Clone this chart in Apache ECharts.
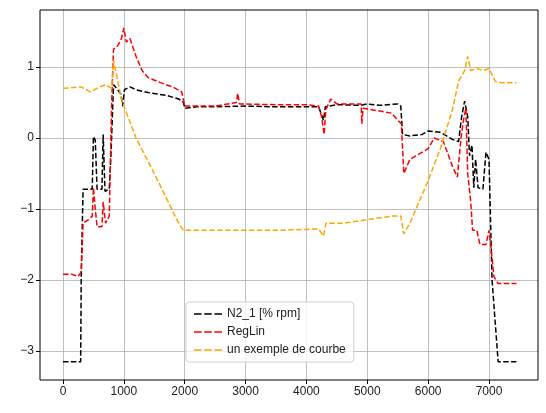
<!DOCTYPE html>
<html><head><meta charset="utf-8">
<script src="https://cdn.jsdelivr.net/npm/echarts@6/dist/echarts.min.js"></script>
<style>html,body{margin:0;padding:0;background:#fff}#c{width:546px;height:413px}</style>
</head><body><div id="c"></div>
<script>
var n2 = [[0,-3.15],[290,-3.15],[300,-1.9],[330,-0.72],[480,-0.72],[500,0.02],[530,-0.03],[560,-0.72],[640,-0.72],[660,0.05],[690,-0.75],[760,-0.72],[790,-0.2],[830,0.75],[880,0.7],[950,0.62],[980,0.45],[1010,0.68],[1100,0.72],[1200,0.68],[1400,0.64],[1700,0.6],[1900,0.55],[1980,0.5],[2000,0.42],[2200,0.44],[2500,0.44],[3000,0.45],[3500,0.44],[4000,0.44],[4200,0.44],[4280,0.25],[4310,0.44],[4500,0.47],[4900,0.46],[5000,0.48],[5200,0.46],[5500,0.48],[5550,0.45],[5580,0.05],[5700,0.03],[5900,0.05],[6000,0.1],[6200,0.08],[6400,-0.02],[6500,-0.05],[6550,0.3],[6600,0.52],[6650,0.3],[6680,-0.25],[6720,-0.1],[6750,-0.7],[6780,-0.3],[6820,-0.7],[6900,-0.72],[6950,-0.2],[7000,-0.3],[7050,-2.0],[7150,-3.15],[7450,-3.15]];
var reglin = [[0,-1.92],[150,-1.92],[250,-1.95],[300,-1.88],[330,-1.2],[420,-1.15],[480,-1.1],[500,-0.7],[530,-1.0],[560,-1.25],[640,-1.25],[660,-0.9],[700,-1.2],[760,-1.1],[800,0.5],[830,1.25],[900,1.3],[960,1.4],[1000,1.55],[1040,1.35],[1100,1.4],[1200,1.15],[1300,0.95],[1400,0.85],[1600,0.78],[1800,0.72],[1950,0.65],[2000,0.45],[2500,0.45],[2850,0.5],[2870,0.63],[2900,0.48],[3500,0.47],[4000,0.47],[4200,0.45],[4250,0.3],[4290,0.05],[4320,0.4],[4400,0.55],[4500,0.48],[4900,0.48],[4910,0.2],[4930,0.42],[5400,0.35],[5500,0.25],[5560,0.2],[5600,-0.5],[5700,-0.3],[5800,-0.25],[6000,-0.15],[6100,0.0],[6250,-0.05],[6400,-0.4],[6480,-0.55],[6540,0.0],[6580,0.25],[6620,0.42],[6650,-0.5],[6700,-0.9],[6730,-1.3],[6800,-1.3],[6850,-1.5],[6950,-1.5],[7000,-1.3],[7040,-1.6],[7080,-1.95],[7150,-2.05],[7450,-2.05]];
var courbe = [[0,0.7],[300,0.72],[450,0.65],[600,0.72],[700,0.75],[800,0.7],[830,1.1],[900,0.8],[960,0.55],[1000,0.45],[1200,0.0],[1500,-0.5],[1700,-0.85],[1900,-1.2],[1980,-1.3],[2500,-1.3],[3000,-1.3],[3500,-1.3],[4200,-1.28],[4280,-1.38],[4320,-1.2],[4600,-1.2],[5000,-1.15],[5400,-1.1],[5550,-1.1],[5600,-1.35],[5700,-1.2],[6000,-0.6],[6200,-0.15],[6400,0.4],[6500,0.8],[6600,0.95],[6650,1.15],[6700,0.95],[6800,0.98],[6900,0.95],[7000,0.98],[7100,0.8],[7200,0.78],[7450,0.78]];
var names = ['N2_1 [% rpm]','RegLin','un exemple de courbe'];
var colors = ['#000000','#ff0000','#ffa500'];
var datas = [n2, reglin, courbe];
var chart = echarts.init(document.getElementById('c'));
var grid = {color:'#b0b0b0',width:0.8};
chart.setOption({
  animation:false,
  grid:[{left:63,right:57,top:10,bottom:33},{left:40,right:8,top:67,bottom:62},{left:40,right:8,top:10,bottom:33}],
  xAxis:[
    {gridIndex:0,type:'value',min:0,max:7000,interval:1000,position:'bottom',axisLine:{show:false,onZero:false},
     axisTick:{show:true,length:4,lineStyle:{color:'#000'}},axisLabel:{color:'#222',fontSize:12,margin:6,formatter:function(v){return ''+v;}},
     splitLine:{show:true,lineStyle:grid}},
    {gridIndex:1,type:'value',show:false},
    {gridIndex:2,type:'value',min:-378,max:7805,show:false,splitLine:{show:false}}
  ],
  yAxis:[
    {gridIndex:0,type:'value',show:false,splitLine:{show:false}},
    {gridIndex:1,type:'value',min:-3,max:1,interval:1,axisLine:{show:false,onZero:false},
     axisTick:{show:true,length:4,lineStyle:{color:'#000'}},
     axisLabel:{color:'#222',fontSize:12,margin:6,formatter:function(v){return v<0?'\u2212'+Math.abs(v):''+v;}},
     splitLine:{show:true,lineStyle:grid}},
    {gridIndex:2,type:'value',min:-3.408,max:1.803,show:false,splitLine:{show:false}}
  ],
  legend:{left:186,top:302,orient:'vertical',itemWidth:28,itemHeight:10,itemGap:6,
    padding:[6,8,6,8],borderColor:'#d0d0d0',borderWidth:1,borderRadius:3,backgroundColor:'rgba(255,255,255,0.8)',
    textStyle:{fontSize:12,color:'#222'},data:names,
    icon:'path://M0,4h9v2h-9zM12,4h9v2h-9zM24,4h9v2h-9z'},
  graphic:[{type:'rect',shape:{x:40,y:10,width:498,height:370},style:{fill:'none',stroke:'#000',lineWidth:1},z:100}],
  series: datas.map(function(d,i){return {name:names[i],type:'line',xAxisIndex:2,yAxisIndex:2,data:d,
    showSymbol:false,symbol:'none',color:colors[i],
    lineStyle:{color:colors[i],width:1.5,type:[5.5,2.4]}};})
});
</script></body></html>
